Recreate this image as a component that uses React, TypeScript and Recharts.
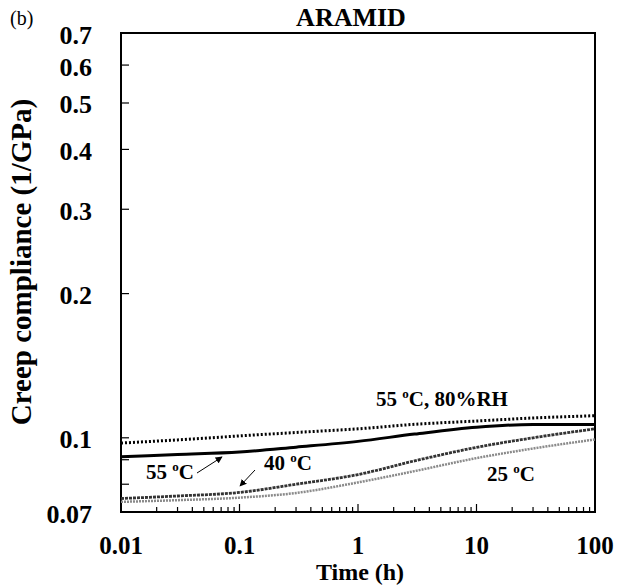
import React from "react";
import { LineChart, Line, XAxis, YAxis, ReferenceArea, Customized } from "recharts";

// ---- data ----
const times = [0.01, 0.03, 0.1, 0.3, 1, 3, 10, 30, 100];
const rh55 = [0.0975, 0.099, 0.1009, 0.1026, 0.1044, 0.1067, 0.1084, 0.11, 0.1112];
const c55 = [0.0913, 0.0923, 0.0934, 0.0956, 0.0983, 0.1018, 0.1052, 0.1066, 0.1066];
const c40 = [0.0747, 0.0756, 0.0769, 0.08, 0.0838, 0.0895, 0.0955, 0.1, 0.1044];
const c25 = [0.0735, 0.0741, 0.075, 0.0767, 0.0807, 0.0852, 0.0907, 0.095, 0.0992];

const xMajorTicks = [0.01, 0.1, 1, 10, 100];
const xMinorTicks = [
  0.02, 0.03, 0.04, 0.05, 0.06, 0.07, 0.08, 0.09,
  0.2, 0.3, 0.4, 0.5, 0.6, 0.7, 0.8, 0.9,
  2, 3, 4, 5, 6, 7, 8, 9,
  20, 30, 40, 50, 60, 70, 80, 90,
];
const yLabelTicks = [0.07, 0.1, 0.2, 0.3, 0.4, 0.5, 0.6, 0.7];
const yMinorTicks = [0.08, 0.09];

const data = times.map((t, i) => ({ t, rh55: rh55[i], c55: c55[i], c40: c40[i], c25: c25[i] }));

const FONT = "'Liberation Serif', 'Times New Roman', serif";

const XTick = (props: any) => {
  const { x, y, payload } = props;
  const v = payload.value;
  const major = xMajorTicks.includes(v);
  return (
    <g>
      {v !== 0.01 && v !== 100 && (
        <line x1={x} x2={x} y1={y} y2={y - (major ? 8 : 5)} stroke="#000" strokeWidth={1.2} />
      )}
      {major && (
        <text x={x} y={y + 42} textAnchor="middle" fontFamily={FONT} fontWeight="bold" fontSize={25} fill="#000">
          {String(v)}
        </text>
      )}
    </g>
  );
};

const YTick = (props: any) => {
  const { x, y, payload } = props;
  const v = payload.value;
  const major = yLabelTicks.includes(v);
  return (
    <g>
      {v !== 0.07 && v !== 0.7 && (
        <line x1={x} x2={x + 8} y1={y} y2={y} stroke="#000" strokeWidth={1.2} />
      )}
      {major && (
        <text x={x - 29} y={y + 2} textAnchor="end" dominantBaseline="central" fontFamily={FONT} fontWeight="bold" fontSize={26} fill="#000">
          {String(v)}
        </text>
      )}
    </g>
  );
};

const Deg = ({ x, y, pre, post, size }: any) => (
  <text x={x} y={y} fontFamily={FONT} fontWeight="bold" fontSize={size} fill="#000">
    {pre}
    <tspan dy={-8} fontSize={size * 0.62}>o</tspan>
    <tspan dy={8}>{post}</tspan>
  </text>
);

const Overlay = () => (
  <g>
    <defs>
      <marker id="arr" viewBox="0 0 10 10" refX="9" refY="5" markerWidth="7" markerHeight="7" orient="auto-start-reverse">
        <path d="M0,0 L10,5 L0,10 z" fill="#000" />
      </marker>
    </defs>
    <text x={10} y={25} fontFamily={FONT} fontSize={20} fill="#000">(b)</text>
    <text x={351} y={26} textAnchor="middle" fontFamily={FONT} fontWeight="bold" fontSize={26} fill="#000">ARAMID</text>
    <text
      x={21}
      y={262}
      transform="rotate(-90 21 262)"
      textAnchor="middle"
      dominantBaseline="central"
      fontFamily={FONT}
      fontWeight="bold"
      fontSize={29}
      fill="#000"
    >
      Creep compliance (1/GPa)
    </text>
    <text x={360} y={580} textAnchor="middle" fontFamily={FONT} fontWeight="bold" fontSize={24} fill="#000">Time (h)</text>
    <Deg x={376} y={406} pre="55 " post="C, 80%RH" size={21} />
    <Deg x={146} y={479} pre="55 " post="C" size={21} />
    <Deg x={264} y={470} pre="40 " post="C" size={21} />
    <Deg x={487} y={481} pre="25 " post="C" size={21} />
    <line x1={197} y1={473} x2={222} y2={457} stroke="#000" strokeWidth={1} markerEnd="url(#arr)" />
    <line x1={255} y1={470} x2={240} y2={486} stroke="#000" strokeWidth={1} markerEnd="url(#arr)" />
  </g>
);

export default function App() {
  return (
    <div style={{ position: "absolute", left: 0, top: 0, width: 617, height: 586, background: "#fff" }}>
      <LineChart width={617} height={586} data={data} margin={{ top: 33, right: 22, bottom: 0, left: 0 }}>
        <XAxis
          dataKey="t"
          type="number"
          scale="log"
          domain={[0.01, 100]}
          allowDataOverflow
          ticks={[...xMajorTicks, ...xMinorTicks].sort((a, b) => a - b)}
          interval={0}
          tick={<XTick />}
          tickLine={false}
          tickSize={0}
          tickMargin={0}
          axisLine={false}
          height={74}
        />
        <YAxis
          type="number"
          scale="log"
          domain={[0.07, 0.7]}
          allowDataOverflow
          ticks={[...yLabelTicks, ...yMinorTicks].sort((a, b) => a - b)}
          interval={0}
          tick={<YTick />}
          tickLine={false}
          tickSize={0}
          tickMargin={0}
          axisLine={false}
          width={121}
        />
        <ReferenceArea x1={0.01} x2={100} y1={0.07} y2={0.7} fill="none" stroke="#000" strokeWidth={2} ifOverflow="visible" />
        <Line dataKey="c25" type="monotone" stroke="#8a8a8a" strokeWidth={2.5} strokeDasharray="2 1" dot={false} isAnimationActive={false} />
        <Line dataKey="c40" type="monotone" stroke="#333" strokeWidth={2.8} strokeDasharray="3 1" dot={false} isAnimationActive={false} />
        <Line dataKey="c55" type="monotone" stroke="#000" strokeWidth={3} dot={false} isAnimationActive={false} />
        <Line dataKey="rh55" type="monotone" stroke="#000" strokeWidth={3} strokeDasharray="2 2" dot={false} isAnimationActive={false} />
        <Customized component={<Overlay />} />
      </LineChart>
    </div>
  );
}
